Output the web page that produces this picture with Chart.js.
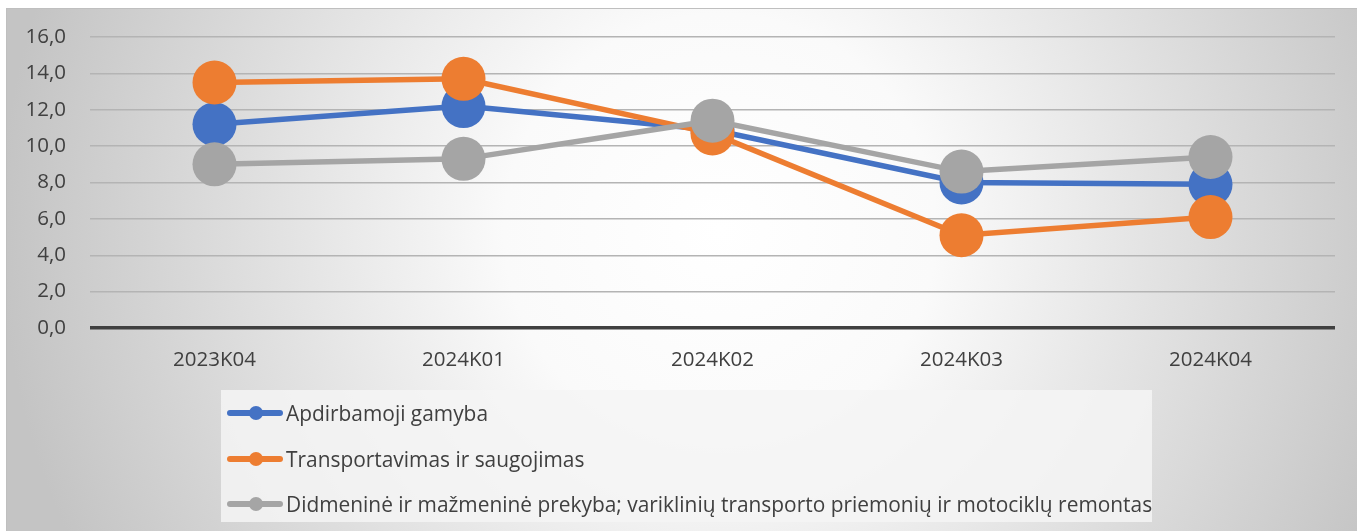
<!DOCTYPE html>
<html>
<head>
<meta charset="utf-8">
<script src="https://cdn.jsdelivr.net/npm/chart.js@4"></script>
<style>
  html, body { margin: 0; padding: 0; background: #fff; }
  #wrap { position: relative; width: 1357px; height: 531px; }
  #legend {
    position: absolute; left: 221px; top: 390px; width: 931px; height: 132px;
    background: rgba(245, 245, 245, 0.85);
    font-family: "Open Sans", "Noto Sans", sans-serif; font-size: 20.9px; color: #404040;
  }
  .item { position: absolute; left: 6px; height: 30px; display: flex; align-items: center; white-space: nowrap; }
  .sym { position: relative; width: 56px; height: 30px; margin-right: 3px; }
  .sym .ln { position: absolute; left: 0; right: 0; top: 12px; height: 6px; border-radius: 3px; }
  .sym .dot { position: absolute; left: 22px; top: 8px; width: 14px; height: 14px; border-radius: 50%; }
</style>
</head>
<body>
<div id="wrap">
  <canvas id="chart" width="1357" height="531"></canvas>
  <div id="legend"></div>
</div>
<script>
// 🔹 데이터
const labels = ['2023K04', '2024K01', '2024K02', '2024K03', '2024K04'];
const seriesNames = [
  'Apdirbamoji gamyba',
  'Transportavimas ir saugojimas',
  'Didmeninė ir mažmeninė prekyba; variklinių transporto priemonių ir motociklų remontas'
];
const gamyba = [11.2, 12.2, 10.9, 8.0, 7.9];
const transportas = [13.5, 13.7, 10.7, 5.1, 6.1];
const prekyba = [9.0, 9.3, 11.4, 8.6, 9.4];
const colors = ['#4472c4', '#ed7d31', '#a5a5a5'];
const FONT = '"Open Sans", "Noto Sans", sans-serif';

// 🔹 배경 (방사형 그라데이션)
const bgPlugin = {
  id: 'bg',
  beforeDraw(chart) {
    const c = chart.ctx;
    const g = c.createRadialGradient(720, 230, 0, 720, 230, 720);
    g.addColorStop(0, '#ffffff');
    g.addColorStop(0.3, '#fafafa');
    g.addColorStop(1, '#c4c4c4');
    c.save();
    c.fillStyle = g;
    c.fillRect(6, 8, 1351, 523);
    c.strokeStyle = '#bfbfbf';
    c.lineWidth = 1;
    c.strokeRect(6.5, 8.5, 1351, 523);
    c.restore();
  }
};

// 파랑 맨 아래, 회색 맨 위
const allData = [gamyba, transportas, prekyba];
const datasets = allData.map((d, i) => ({
  label: seriesNames[i],
  data: d,
  order: 2 - i,
  borderColor: colors[i],
  backgroundColor: colors[i],
  pointBackgroundColor: colors[i],
  pointBorderWidth: 0,
  pointRadius: 22,
  pointHoverRadius: 22,
  borderWidth: 5.5,
  tension: 0
}));

const ctx = document.getElementById('chart').getContext('2d');
new Chart(ctx, {
  type: 'line',
  data: { labels: labels, datasets: datasets },
  options: {
    responsive: false,
    animation: false,
    layout: { padding: { left: 0, top: 37, right: 20, bottom: 0 } },
    plugins: { legend: { display: false }, tooltip: { enabled: false } },
    scales: {
      x: {
        offset: true,
        grid: { display: false },
        border: { display: false },
        ticks: { color: '#404040', font: { family: FONT, size: 20.5 }, padding: 12 },
        afterFit(s) { s.height = 203; }
      },
      y: {
        min: 0, max: 16,
        border: { display: false },
        grid: {
          drawTicks: false,
          color: c => c.tick.value === 0 ? '#404040' : '#b4b4b4',
          lineWidth: c => c.tick.value === 0 ? 3.5 : 1.5
        },
        ticks: {
          stepSize: 2,
          color: '#404040',
          padding: 24,
          font: { family: FONT, size: 20.5 },
          callback: v => v.toFixed(1).replace('.', ',')
        },
        afterFit(s) { s.width = 90; }
      }
    }
  },
  plugins: [bgPlugin]
});

// 🔹 범례 (HTML)
const legend = document.getElementById('legend');
seriesNames.forEach((name, i) => {
  const item = document.createElement('div');
  item.className = 'item';
  item.style.top = (8 + i * 45.5) + 'px';
  item.innerHTML = `<span class="sym"><span class="ln" style="background:${colors[i]}"></span>` +
    `<span class="dot" style="background:${colors[i]}"></span></span><span>${name}</span>`;
  legend.appendChild(item);
});
</script>
</body>
</html>
